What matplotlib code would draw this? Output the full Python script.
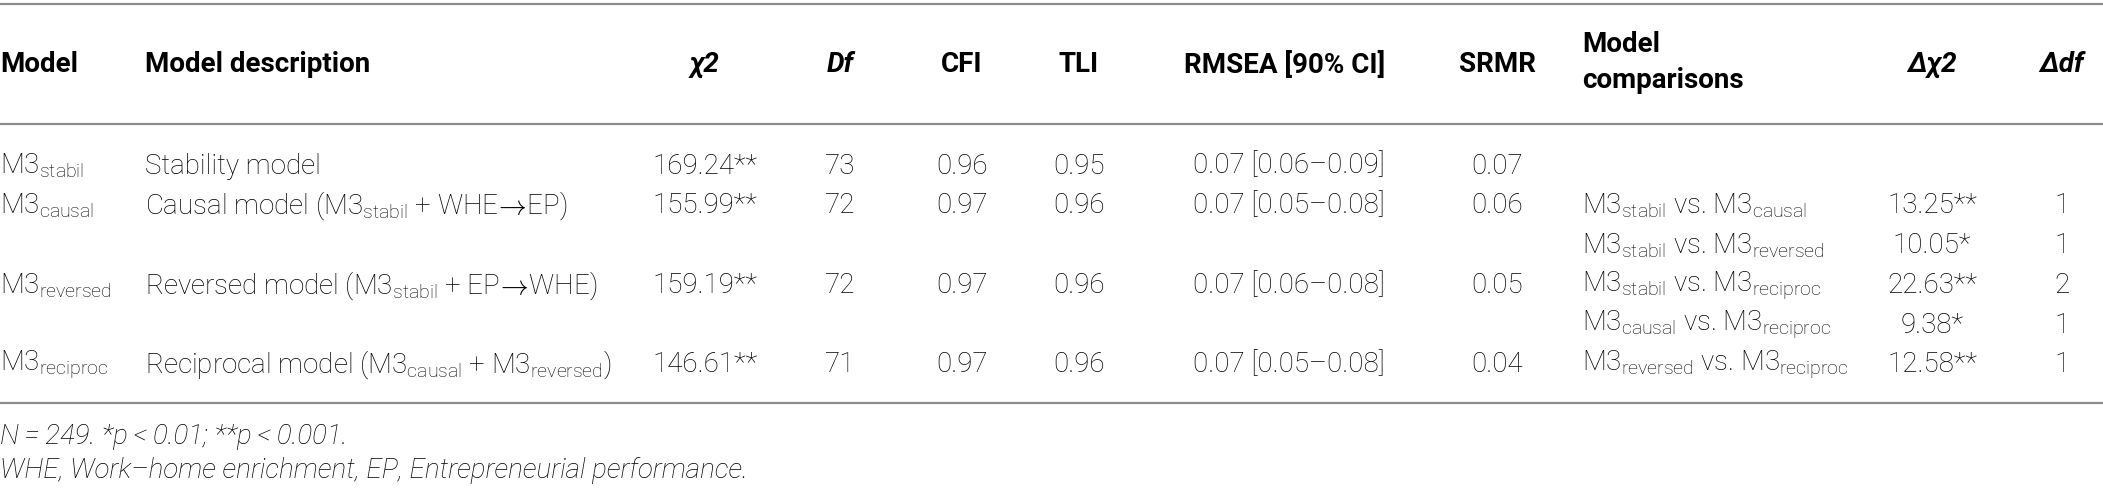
import matplotlib
matplotlib.use("Agg")
import matplotlib.pyplot as plt

# ---------------- data ----------------
headers = ["Model", "Model description", "χ2", "Df", "CFI", "TLI",
           "RMSEA [90% CI]", "SRMR", "Model\ncomparisons", "Δχ2", "Δdf"]
models = [r"M3$_{\mathrm{stabil}}$", r"M3$_{\mathrm{causal}}$",
          r"M3$_{\mathrm{reversed}}$", r"M3$_{\mathrm{reciproc}}$"]
descriptions = [
    "Stability model",
    r"Causal model (M3$_{\mathrm{stabil}}$ + WHE$\!\rightarrow\!$EP)",
    r"Reversed model (M3$_{\mathrm{stabil}}$ + EP$\!\rightarrow\!$WHE)",
    r"Reciprocal model (M3$_{\mathrm{causal}}$ + M3$_{\mathrm{reversed}}$)",
]
chi2 = ["169.24**", "155.99**", "159.19**", "146.61**"]
dfs = ["73", "72", "72", "71"]
cfi = ["0.96", "0.97", "0.97", "0.97"]
tli = ["0.95", "0.96", "0.96", "0.96"]
rmsea = ["0.07 [0.06–0.09]", "0.07 [0.05–0.08]", "0.07 [0.06–0.08]", "0.07 [0.05–0.08]"]
srmr = ["0.07", "0.06", "0.05", "0.04"]
model_rows = [0, 1, 3, 5]          # sub-row index of each model
comparisons = [
    r"M3$_{\mathrm{stabil}}$ vs. M3$_{\mathrm{causal}}$",
    r"M3$_{\mathrm{stabil}}$ vs. M3$_{\mathrm{reversed}}$",
    r"M3$_{\mathrm{stabil}}$ vs. M3$_{\mathrm{reciproc}}$",
    r"M3$_{\mathrm{causal}}$ vs. M3$_{\mathrm{reciproc}}$",
    r"M3$_{\mathrm{reversed}}$ vs. M3$_{\mathrm{reciproc}}$",
]
comp_rows = [1, 2, 3, 4, 5]
dchi2 = ["13.25**", "10.05*", "22.63**", "9.38*", "12.58**"]
ddf = ["1", "1", "2", "1", "1"]
notes = ["N\u2009=\u2009249. *p\u2009<\u20090.01; **p\u2009<\u20090.001.",
         "WHE, Work–home enrichment, EP, Entrepreneurial performance."]

# ---------------- style ----------------
FAM = "Roboto"
plt.rcParams["font.family"] = [FAM, "DejaVu Sans"]
plt.rcParams["mathtext.fontset"] = "custom"
plt.rcParams["mathtext.rm"] = FAM + ":light"
plt.rcParams["mathtext.it"] = FAM + ":italic:light"
plt.rcParams["mathtext.bf"] = FAM + ":bold"
FS = 20
W, H = 2103, 492

fig = plt.figure(figsize=(W / 100, H / 100), dpi=100)
ax = fig.add_axes([0, 0, 1, 1])
ax.set_xlim(0, W)
ax.set_ylim(H, 0)
ax.axis("off")

line_col = "#8c8c8c"
for yy in (4, 124, 403):
    ax.plot([0, W], [yy, yy], color=line_col, lw=1.6, solid_capstyle="butt")

# column positions: (x, ha)
cols = [(0, "left"), (145, "left"), (705, "center"), (840, "center"),
        (962, "center"), (1079, "center"), (1385, "right"), (1497, "center"),
        (1582, "left"), (1932, "center"), (2062, "center")]
hdr_style = ["normal", "normal", "italic", "italic", "normal", "normal",
             "normal", "normal", "normal", "italic", "italic"]
hdr_y = 65
for (x, ha), h, st in zip(cols, headers, hdr_style):
    lines = h.split("\n")
    if len(lines) == 1:
        ys = [hdr_y]
    else:
        ys = [44, 81]
    for ln, yy in zip(lines, ys):
        ax.text(x, yy, ln, ha=ha, va="center", fontsize=FS, fontweight="bold",
                fontstyle=st, color="black")

row_y0, row_dy = 166, 39.8
def ry(i):
    return row_y0 + i * row_dy

body = dict(fontsize=FS, fontweight="light", color="black", va="center")
for k, r in enumerate(model_rows):
    y = ry(r)
    vals = [models[k], descriptions[k], chi2[k], dfs[k], cfi[k], tli[k],
            rmsea[k], srmr[k]]
    for (x, ha), v in zip(cols[:8], vals):
        ax.text(x, y, v, ha=ha, **body)

for k, r in enumerate(comp_rows):
    y = ry(r)
    for (x, ha), v in zip(cols[8:], [comparisons[k], dchi2[k], ddf[k]]):
        ax.text(x, y, v, ha=ha, **body)

for i, n in enumerate(notes):
    ax.text(0, 437 + i * 33, n, ha="left", va="center", fontsize=FS,
            fontweight="light", fontstyle="italic", color="black")

fig.savefig("out.png", dpi=100, facecolor="white")
